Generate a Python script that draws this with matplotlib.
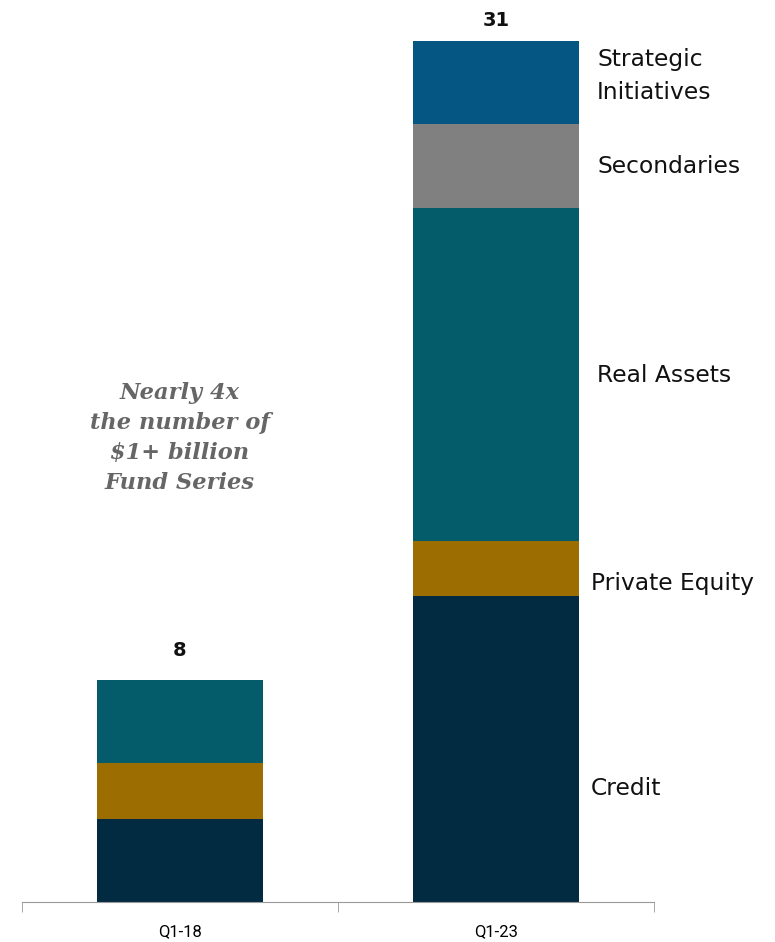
import matplotlib
matplotlib.use('Agg')
import matplotlib.pyplot as plt
import numpy as np

# data
periods = ['Q1-18', 'Q1-23']
segments = ['Credit', 'Private Equity', 'Real Assets', 'Secondaries', 'Strategic\nInitiatives']
credit = [3, 11]
private_equity = [2, 2]
real_assets = [3, 12]
secondaries = [0, 3]
strategic = [0, 3]
totals = [8, 31]
colors = ['#022a40', '#9c6d00', '#045c6a', '#808080', '#055682']

values = [credit, private_equity, real_assets, secondaries, strategic]

plt.rcParams['font.family'] = ['DejaVu Sans']

fig = plt.figure(figsize=(7.75, 9.42), dpi=100)
ax = fig.add_axes([22 / 775, 1 - 902 / 942, (654 - 22) / 775, (902 - 41) / 942])

x = np.arange(len(periods))
bottom = np.zeros(len(periods))
for vals, col in zip(values, colors):
    ax.bar(x, vals, bottom=bottom, width=0.525, color=col, linewidth=0)
    bottom += np.array(vals)

ax.set_xlim(-0.5, 1.5)
ax.set_ylim(0, 31)

# totals on top
for xi, t, off in zip(x, totals, [14, 8]):
    ax.annotate(str(t), (xi, t), xytext=(0, off), textcoords='offset points',
                ha='center', va='bottom', fontsize=14, fontweight='bold', color='#111111')

# segment labels to the right of the last bar
label_y = [4.07, 11.45, 18.96, 26.48, 29.75]
label_x = [1.30, 1.30, 1.32, 1.32, 1.32]
for lab, ly, lx in zip(segments, label_y, label_x):
    ax.text(lx, ly, lab, ha='left', va='center',
            fontsize=16.8, color='#111111', linespacing=1.55, clip_on=False)

ax.text(0, 16.7, 'Nearly 4x\nthe number of\n$1+ billion\nFund Series', ha='center', va='center',
        fontsize=16.2, fontstyle='italic', fontweight='bold', family='DejaVu Serif',
        color='#666666', linespacing=1.48)

for s in ['top', 'right', 'left']:
    ax.spines[s].set_visible(False)
ax.spines['bottom'].set_color('#999999')
ax.set_yticks([])
ax.set_xticks(x)
ax.set_xticklabels(periods, fontsize=12, family=['Roboto', 'DejaVu Sans'])
ax.tick_params(axis='x', which='major', length=0, pad=16)
ax.set_xticks([-0.5, 0.5, 1.5], minor=True)
ax.tick_params(axis='x', which='minor', length=7, direction='out', color='#999999')

plt.savefig('out.png', dpi=100)
